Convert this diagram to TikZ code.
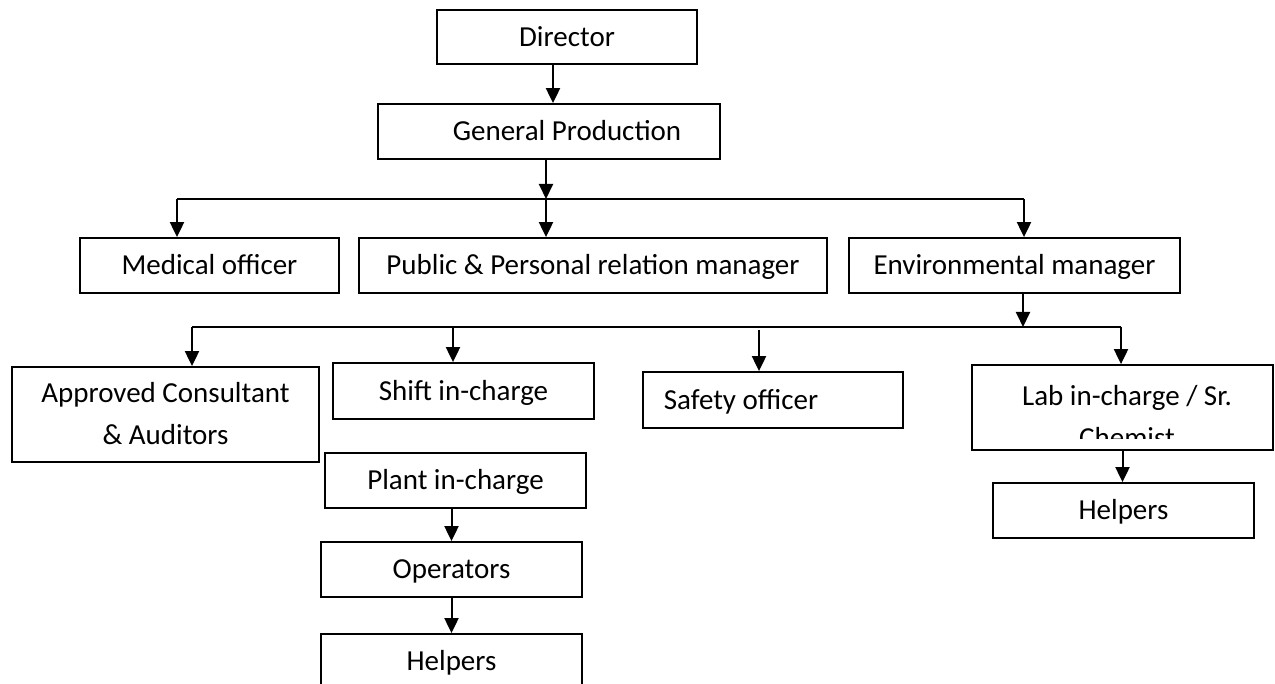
\documentclass[tikz,border=0pt]{standalone}
\usepackage{fontspec}
\setmainfont{Carlito}
\usetikzlibrary{arrows.meta}
\begin{document}
\begin{tikzpicture}[x=0.5pt,y=-0.5pt,
  lbl/.style={inner sep=0pt, font=\fontsize{14.5pt}{21pt}\selectfont,
    text height=9.3pt, text depth=0pt, align=center},
  twolines/.style={text height=30.3pt},
  box/.style={lbl, draw, line width=0.9pt},
  arr/.style={line width=1pt, -{Triangle[length=7.5pt,width=7pt]}},
  bus/.style={line width=1pt}]
\clip (0,0) rectangle (1275,684);
\fill[white] (0,0) rectangle (1275,684);

% top of the chart
\node[box, minimum width=130pt, minimum height=27pt] (dir) at (567,37) {Director};
\node[box, minimum width=171pt, minimum height=27.5pt] (gp) at (549,131.5) {\hspace*{18pt}General Production};

% second level
\node[box, minimum width=129.5pt, minimum height=27.5pt] (med) at (209.5,265.5) {Medical officer};
\node[box, minimum width=234pt, minimum height=27.5pt] (pub) at (593,265.5) {Public \& Personal relation manager};
\node[box, minimum width=165.5pt, minimum height=27.5pt] (env) at (1014.5,265.5) {Environmental manager};

% third level
\node[box, twolines, minimum width=153.5pt, minimum height=47.5pt] (appr) at (165.5,414.5) {Approved Consultant\\\& Auditors};
\node[box, minimum width=130.5pt, minimum height=28pt] (shift) at (463.5,391) {Shift in-charge};
\node[box, minimum width=130pt, minimum height=28pt] (safety) at (773,400) {Safety officer\hspace*{32pt}};
\node[box, minimum width=150.5pt, minimum height=42.5pt] (lab) at (1122.5,407.5) {};
\begin{scope}
  \clip (972,365) rectangle (1273,438);
  \node[lbl, twolines] (labtext) at (1127,417) {Lab in-charge / Sr.\\Chemist};
\end{scope}

% lower boxes
\node[box, minimum width=130.5pt, minimum height=27.5pt] (plant) at (455.5,480.5) {Plant in-charge};
\node[box, minimum width=130.5pt, minimum height=27.5pt] (oper) at (451.5,569.5) {Operators};
\node[box, minimum width=130.5pt, minimum height=27.5pt] (help1) at (451.5,661.5) {Helpers};
\node[box, minimum width=130.5pt, minimum height=27.5pt] (help2) at (1123.5,510.5) {Helpers};

% junction points on the two distribution lines
\coordinate (j1) at (546,199);
\coordinate (j1l) at (177,199);
\coordinate (j1r) at (1024,199);
\coordinate (j2) at (1023,327);
\coordinate (j2l) at (192,327);
\coordinate (j2s) at (453,327);
\coordinate (j2f) at (759,330);
\coordinate (j2r) at (1121,327);

% connectors
\draw[arr] ([xshift=-7pt]dir.south) -- ([xshift=-7pt]dir.south |- gp.north);
\draw[arr] (gp.south -| j1) -- (j1);
\draw[bus] (j1l) -- (j1r);
\draw[arr] (j1l) -- (med.north -| j1l);
\draw[arr] (j1) -- (pub.north -| j1);
\draw[arr] (j1r) -- (env.north -| j1r);

\draw[arr] (env.south -| j2) -- (j2);
\draw[bus] (j2l) -- (j2r);
\draw[arr] (j2l) -- (appr.north -| j2l);
\draw[arr] (j2s) -- (shift.north -| j2s);
\draw[arr] (j2f) -- (safety.north -| j2f);
\draw[arr] (j2r) -- (lab.north -| j2r);

\draw[arr] (lab.south) -- (help2.north -| lab.south);
\draw[arr] (oper.north |- plant.south) -- (oper.north);
\draw[arr] (oper.south) -- (help1.north);
\end{tikzpicture}
\end{document}
